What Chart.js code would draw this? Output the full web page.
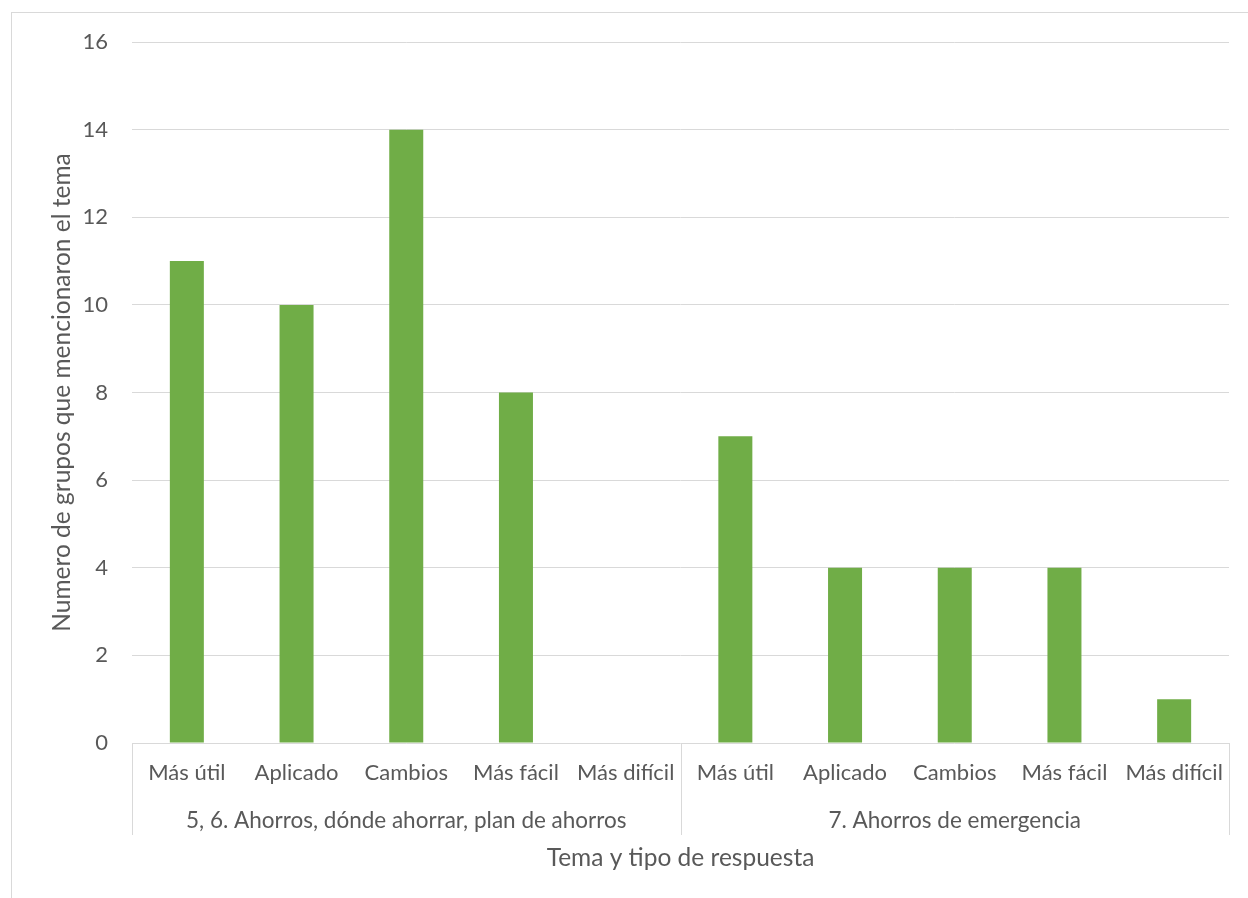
<!DOCTYPE html>
<html>
<head>
<meta charset="utf-8">
<script src="https://cdn.jsdelivr.net/npm/chart.js@4/dist/chart.umd.min.js"></script>
<style>
  html, body { margin: 0; padding: 0; background: #fff; }
  canvas { display: block; }
</style>
</head>
<body>
<canvas id="ahorrosChart" width="1248" height="898"></canvas>
<script>
// respuestas por tema
const subLabels = ['Más útil', 'Aplicado', 'Cambios', 'Más fácil', 'Más difícil',
                   'Más útil', 'Aplicado', 'Cambios', 'Más fácil', 'Más difícil'];
const groupLabels = ['5, 6. Ahorros, dónde ahorrar, plan de ahorros', '7. Ahorros de emergencia'];
const groupSizes = [5, 5];
const grupos = [11, 10, 14, 8, 0, 7, 4, 4, 4, 1];

const textColor = '#595959';
const lineColor = '#d9d9d9';
const fontFamily = 'Lato, "Liberation Sans", sans-serif';

// marco exterior + separadores y etiquetas del segundo nivel del eje x
const groupAxis = {
    id: 'groupAxis',
    beforeDraw(chart) {
        const ctx = chart.ctx;
        ctx.save();
        ctx.strokeStyle = lineColor;
        ctx.lineWidth = 1;
        ctx.strokeRect(11.5, 12.5, 1400, 1000);
        ctx.restore();
    },
    afterDraw(chart) {
        const ctx = chart.ctx;
        const x = chart.scales.x;
        const area = chart.chartArea;
        const step = x.getPixelForValue(1) - x.getPixelForValue(0);
        ctx.save();
        ctx.strokeStyle = lineColor;
        ctx.lineWidth = 1;
        ctx.fillStyle = textColor;
        ctx.font = '22.5px ' + fontFamily;
        ctx.textAlign = 'center';
        ctx.textBaseline = 'middle';
        let start = 0;
        const edges = [area.left];
        groupSizes.forEach((n, i) => {
            const left = x.getPixelForValue(start) - step / 2;
            const right = x.getPixelForValue(start + n - 1) + step / 2;
            edges.push(right);
            ctx.fillText(groupLabels[i], (left + right) / 2, area.bottom + 78);
            start += n;
        });
        edges.forEach(px => {
            const xx = Math.round(px) + 0.5;
            ctx.beginPath();
            ctx.moveTo(xx, area.bottom);
            ctx.lineTo(xx, area.bottom + 92);
            ctx.stroke();
        });
        ctx.restore();
    }
};

new Chart(document.getElementById('ahorrosChart'), {
    type: 'bar',
    data: {
        labels: subLabels,
        datasets: [{
            data: grupos,
            backgroundColor: '#70ad47',
            borderWidth: 0,
            barPercentage: 0.31,
            categoryPercentage: 1.0
        }]
    },
    options: {
        responsive: false,
        animation: false,
        layout: {
            padding: { top: 42, right: 19, bottom: 0, left: 0 }
        },
        plugins: {
            legend: { display: false },
            tooltip: { enabled: false }
        },
        scales: {
            x: {
                grid: { display: false },
                border: { display: false },
                ticks: {
                    color: textColor,
                    font: { family: fontFamily, size: 22 },
                    padding: 9,
                    maxRotation: 0,
                    autoSkip: false
                },
                title: {
                    display: true,
                    text: 'Tema y tipo de respuesta',
                    color: textColor,
                    font: { family: fontFamily, size: 24.5 },
                    padding: { top: 0, bottom: 25 }
                },
                afterFit(scale) { scale.height = 155; }
            },
            y: {
                min: 0,
                max: 16,
                ticks: {
                    stepSize: 2,
                    color: textColor,
                    font: { family: fontFamily, size: 22 },
                    padding: 24
                },
                grid: { color: lineColor, drawTicks: false },
                border: { display: false },
                title: {
                    display: true,
                    text: 'Numero de grupos que mencionaron el tema',
                    color: textColor,
                    font: { family: fontFamily, size: 24.5 },
                    padding: { top: 47, bottom: 0 }
                },
                afterFit(scale) { scale.width = 132; }
            }
        }
    },
    plugins: [groupAxis]
});
</script>
</body>
</html>
